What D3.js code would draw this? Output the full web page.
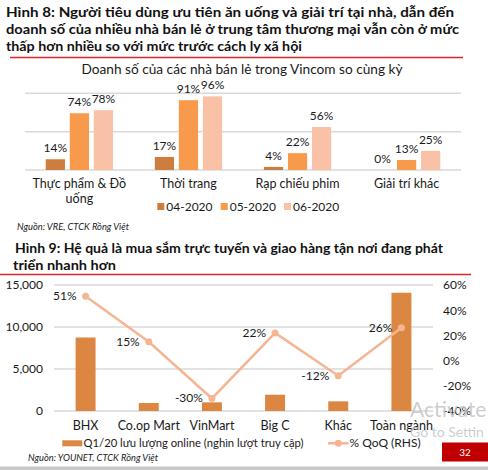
<!DOCTYPE html>
<html><head><meta charset="utf-8">
<script src="https://cdn.jsdelivr.net/npm/d3@7/dist/d3.min.js"></script>
<style>
html,body{margin:0;padding:0;background:#fff;}
svg{display:block;}
text{font-family:Lato,"Noto Sans",sans-serif;fill:#1a1a1a;}
.ttl{font-weight:bold;font-size:14px;fill:#111;}
</style></head>
<body>
<script>
// ---- Data: Hình 8 ----
const categories1 = ["Thực phẩm & Đồ uống", "Thời trang", "Rạp chiếu phim", "Giải trí khác"];
const seriesNames1 = ["04-2020", "05-2020", "06-2020"];
const values0420 = [14, 17, 4, 0];
const values0520 = [74, 91, 22, 13];
const values0620 = [78, 96, 56, 25];
const yTicks1 = [0, 50, 100];

// ---- Data: Hình 9 ----
const categories2 = ["BHX", "Co.op Mart", "VinMart", "Big C", "Khác", "Toàn ngành"];
const trafficQ120 = [8750, 950, 1030, 1940, 1150, 14080];
const qoqPct = [51, 15, -30, 22, -12, 26];
const leftTicks2 = [0, 5000, 10000, 15000];
const rightTicks2 = [-40, -20, 0, 20, 40, 60];

const colors1 = ["#cd7d3d", "#f79a4b", "#f9c2a6"];
const barColor2 = "#db8741";
const lineColor2 = "#f5b593";
const gridColor = "#d9d9d9";

const W = 488, H = 470;
const svg = d3.select("body").append("svg").attr("width", W).attr("height", H);

// ---------- Figure 8 title ----------
const t1 = [
  ["Hình 8: Người tiêu dùng ưu tiên ăn uống và giải trí tại nhà, dẫn đến", 6, 16.5, 448],
  ["doanh số của nhiều nhà bán lẻ ở trung tâm thương mại vẫn còn ở mức", 6, 33.5, 453],
  ["thấp hơn nhiều so với mức trước cách ly xã hội", 6, 50.5, 296]
];
t1.forEach(([s, x, y, w]) => svg.append("text").attr("class", "ttl").attr("x", x).attr("y", y)
  .attr("textLength", w).attr("lengthAdjust", "spacingAndGlyphs").text(s));
svg.append("line").attr("x1", 10).attr("x2", 463).attr("y1", 57.5).attr("y2", 57.5)
  .attr("stroke", "#d9262b").attr("stroke-width", 1.3);

// ---------- Chart 1 ----------
svg.append("text").attr("x", 242).attr("y", 73.5).attr("text-anchor", "middle")
  .attr("font-size", 14).attr("textLength", 321).attr("lengthAdjust", "spacingAndGlyphs")
  .text("Doanh số của các nhà bán lẻ trong Vincom so cùng kỳ");

const x1 = d3.scaleBand().domain(categories1).range([25, 461]).paddingInner(0.383).paddingOuter(0.19);
const xs1 = d3.scaleBand().domain(seriesNames1).range([0, x1.bandwidth()]).paddingInner(0.2).paddingOuter(0);
const y1 = d3.scaleLinear().domain([0, 100]).range([170, 93.3]);

svg.append("g").selectAll("line").data(yTicks1).join("line")
  .attr("x1", 25).attr("x2", 461).attr("y1", d => y1(d)).attr("y2", d => y1(d))
  .attr("stroke", gridColor).attr("stroke-width", 1.5);

const seriesVals1 = [values0420, values0520, values0620];
const g1 = svg.append("g");
seriesNames1.forEach((s, si) => {
  categories1.forEach((c, ci) => {
    const v = seriesVals1[si][ci];
    const bx = x1(c) + xs1(s);
    g1.append("rect").attr("x", bx).attr("y", y1(v)).attr("width", xs1.bandwidth())
      .attr("height", y1(0) - y1(v)).attr("fill", colors1[si]);
    g1.append("text").attr("x", bx + xs1.bandwidth() / 2).attr("y", y1(v) - 7)
      .attr("text-anchor", "middle").attr("font-size", 12).text(v + "%");
  });
});
// category labels
categories1.forEach(c => {
  const cx = x1(c) + x1.bandwidth() / 2;
  if (c === "Thực phẩm & Đồ uống") {
    svg.append("text").attr("x", cx).attr("y", 188).attr("text-anchor", "middle").attr("font-size", 12.5).text("Thực phẩm & Đồ");
    svg.append("text").attr("x", cx).attr("y", 203).attr("text-anchor", "middle").attr("font-size", 12.5).text("uống");
  } else {
    svg.append("text").attr("x", cx).attr("y", 188).attr("text-anchor", "middle").attr("font-size", 12.5).text(c);
  }
});
// legend 1
const leg1x = [157.3, 220.7, 284];
seriesNames1.forEach((s, i) => {
  svg.append("rect").attr("x", leg1x[i]).attr("y", 203).attr("width", 7).attr("height", 7).attr("fill", colors1[i]);
  svg.append("text").attr("x", leg1x[i] + 9).attr("y", 210.5).attr("font-size", 12).text(s);
});
svg.append("text").attr("x", 17).attr("y", 229.5).attr("font-size", 10).attr("font-style", "italic")
  .attr("textLength", 112).attr("lengthAdjust", "spacingAndGlyphs")
  .text("Nguồn: VRE, CTCK Rồng Việt");

// ---------- Figure 9 title ----------
svg.append("text").attr("class", "ttl").attr("x", 15).attr("y", 252.5)
  .attr("textLength", 428).attr("lengthAdjust", "spacingAndGlyphs")
  .text("Hình 9: Hệ quả là mua sắm trực tuyến và giao hàng tận nơi đang phát");
svg.append("text").attr("class", "ttl").attr("x", 13).attr("y", 269.5)
  .attr("textLength", 103).attr("lengthAdjust", "spacingAndGlyphs")
  .text("triển nhanh hơn");
svg.append("line").attr("x1", 0).attr("x2", 471).attr("y1", 274.5).attr("y2", 274.5)
  .attr("stroke", "#d9262b").attr("stroke-width", 1.3);

// ---------- Chart 2 ----------
const x2 = d3.scaleBand().domain(categories2).range([54, 433]).paddingInner(0.684).paddingOuter(0.342);
const yL = d3.scaleLinear().domain([0, 15000]).range([411, 285]);
const yR = d3.scaleLinear().domain([-40, 60]).range([411, 285]);

svg.append("g").selectAll("line").data(leftTicks2).join("line")
  .attr("x1", 54).attr("x2", 433).attr("y1", d => yL(d)).attr("y2", d => yL(d))
  .attr("stroke", gridColor).attr("stroke-width", 1.5);

const axL = svg.append("g").attr("transform", "translate(47,0)")
  .call(d3.axisLeft(yL).tickValues(leftTicks2).tickFormat(d3.format(",")).tickSize(0).tickPadding(4));
axL.select(".domain").remove();
axL.selectAll("text").attr("font-size", 12).attr("font-family", "Lato").attr("fill", "#1a1a1a");

const axR = svg.append("g").attr("transform", "translate(439,0)")
  .call(d3.axisRight(yR).tickValues(rightTicks2).tickFormat(d => d + "%").tickSize(0).tickPadding(4));
axR.select(".domain").remove();
axR.selectAll("text").attr("font-size", 12).attr("font-family", "Lato").attr("fill", "#1a1a1a");

svg.append("g").selectAll("rect").data(categories2).join("rect")
  .attr("x", d => x2(d)).attr("width", x2.bandwidth())
  .attr("y", (d, i) => yL(trafficQ120[i])).attr("height", (d, i) => yL(0) - yL(trafficQ120[i]))
  .attr("fill", barColor2);

const cx2 = d => x2(d) + x2.bandwidth() / 2;
const lineGen = d3.line().x((d, i) => cx2(categories2[i])).y(d => yR(d));
svg.append("path").datum(qoqPct).attr("d", lineGen).attr("fill", "none")
  .attr("stroke", lineColor2).attr("stroke-width", 2.5);
svg.append("g").selectAll("circle").data(qoqPct).join("circle")
  .attr("cx", (d, i) => cx2(categories2[i])).attr("cy", d => yR(d)).attr("r", 3.5).attr("fill", lineColor2);
svg.append("g").selectAll("text").data(qoqPct).join("text")
  .attr("x", (d, i) => cx2(categories2[i]) - 9).attr("y", d => yR(d) + 4)
  .attr("text-anchor", "end").attr("font-size", 12).text(d => d + "%");

svg.append("g").selectAll("text").data(categories2).join("text")
  .attr("x", d => cx2(d)).attr("y", 429.5).attr("text-anchor", "middle").attr("font-size", 12.5).text(d => d);

// legend 2
svg.append("rect").attr("x", 62.3).attr("y", 440.3).attr("width", 20).attr("height", 6).attr("fill", barColor2);
svg.append("text").attr("x", 83.5).attr("y", 447).attr("font-size", 12).attr("textLength", 220)
  .attr("lengthAdjust", "spacingAndGlyphs").text("Q1/20 lưu lượng online (nghìn lượt truy cập)");
svg.append("line").attr("x1", 328).attr("x2", 348.5).attr("y1", 443.3).attr("y2", 443.3)
  .attr("stroke", lineColor2).attr("stroke-width", 2.5);
svg.append("circle").attr("cx", 338.3).attr("cy", 443.3).attr("r", 3.5).attr("fill", lineColor2);
svg.append("text").attr("x", 349.5).attr("y", 447).attr("font-size", 12).text("% QoQ (RHS)");

svg.append("text").attr("x", 28).attr("y", 461).attr("font-size", 10).attr("font-style", "italic")
  .attr("textLength", 130).attr("lengthAdjust", "spacingAndGlyphs")
  .text("Nguồn: YOUNET, CTCK Rồng Việt");

// page number
svg.append("rect").attr("x", 442).attr("y", 442.5).attr("width", 46).attr("height", 19).attr("fill", "#c00000");
svg.append("text").attr("x", 465).attr("y", 456).attr("text-anchor", "middle").attr("font-size", 10)
  .style("fill", "#fff").text("32");

// watermark (present in the reference screenshot)
svg.append("text").attr("x", 410).attr("y", 417).attr("font-size", 21).attr("font-family", "Open Sans")
  .style("fill", "#c4c4c4").style("fill-opacity", 0.85).text("Activate W");
svg.append("text").attr("x", 410).attr("y", 436.5).attr("font-size", 14).attr("font-family", "Open Sans")
  .style("fill", "#c4c4c4").style("fill-opacity", 0.85).text("Go to Settin");

// bottom gray band
svg.append("rect").attr("x", 0).attr("y", 466.5).attr("width", W).attr("height", 3.5).attr("fill", "#c8c8c8");
</script>
</body></html>
